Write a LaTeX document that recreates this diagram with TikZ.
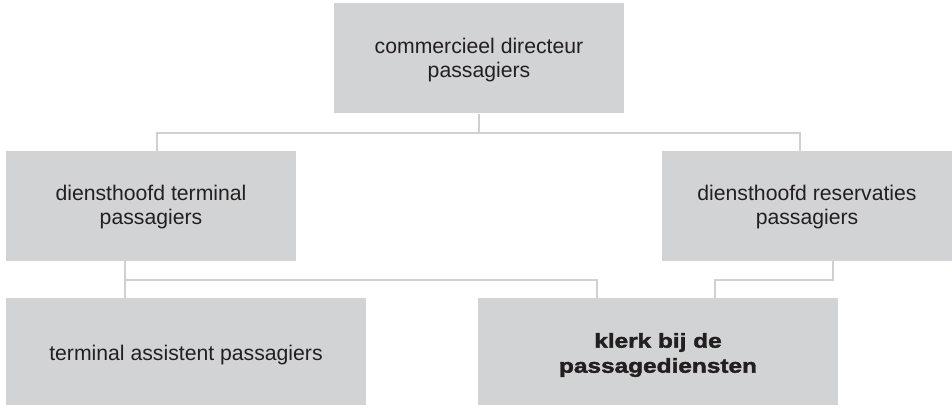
\documentclass[tikz,border=0pt]{standalone}
\usepackage{fontspec}
\setmainfont{Liberation Sans}
\newfontfamily\heavyfont[FakeStretch=1.22,FakeBold=2]{Liberation Sans Bold}
\definecolor{boxgray}{HTML}{D1D3D4}
\definecolor{linegray}{HTML}{CFD0D1}
\definecolor{inkgray}{HTML}{231F20}

\begin{document}
\begin{tikzpicture}[x=0.5pt,y=-0.5pt,
  post/.style={fill=boxgray, inner sep=0pt, text=inkgray, align=center,
    minimum width=145pt, minimum height=55pt,
    font=\fontsize{10.6}{12}\selectfont},
  lift/.style={execute at begin node={\rule{0pt}{#1}}},
  widepost/.style={post, minimum width=180pt, minimum height=53.5pt},
  heavypost/.style={widepost, font=\heavyfont\fontsize{10}{12.5}\selectfont},
  link/.style={draw=linegray, line width=1pt}]
\useasboundingbox (0,0) rectangle (952,405);
% boxes
\node [post, lift=21pt] (dir) at (479,58.5) {commercieel directeur\\passagiers};
\node [post, lift=21pt] (term) at (151,206) {diensthoofd terminal\\passagiers};
\node [post, lift=21pt] (res) at (807,206) {diensthoofd reservaties\\passagiers};
\node [widepost, lift=10.7pt] (assist) at (186,351.5) {terminal assistent passagiers};
\node [heavypost, lift=23.3pt] (klerk) at (658,351.5) {klerk bij de\\passagediensten};
% connectors
\draw [link] (dir.south) -- ++(0,19) -| ([xshift=3pt]term.north);
\draw [link] (dir.south) -- ++(0,19) -| ([xshift=-3.5pt]res.north);
\draw [link] ([xshift=-13pt]term.south) -- ([xshift=-30.5pt]assist.north);
\draw [link] ([xshift=-13pt]term.south) ++(0,19) -| ([xshift=-30.5pt]klerk.north);
\draw [link] ([xshift=13pt]res.south) -- ++(0,19) -| ([xshift=28.5pt]klerk.north);
\end{tikzpicture}
\end{document}
